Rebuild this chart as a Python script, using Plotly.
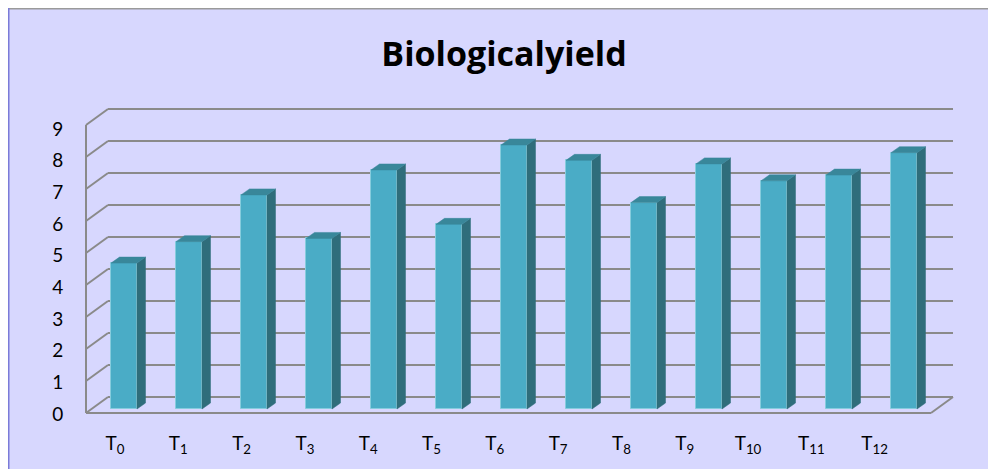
import plotly.graph_objects as go

# ---------------- data ----------------
categories = ["T0", "T1", "T2", "T3", "T4", "T5", "T6", "T7", "T8", "T9", "T10", "T11", "T12"]
tick_labels = ["T<sub>%s</sub>" % c[1:] for c in categories]
yield_values = [4.56, 5.23, 6.69, 5.33, 7.47, 5.77, 8.25, 7.77, 6.45, 7.66, 7.13, 7.31, 8.01]
y_ticks = [0, 1, 2, 3, 4, 5, 6, 7, 8, 9]

# ---------------- geometry / style ----------------
OFF = 8                      # page body margin
W, H = 996 - OFF, 469 - OFF  # figure size
PX_X, PX_Y = 65.0, 32.0      # px per category / per unit (bar plane)
SL, SR, ST, SB = 70, 971, 100, 420   # plot area in screen px
ML, MR, MT, MB = SL - OFF, W - (SR - OFF), ST - OFF, H - (SB - OFF)
PW, PH = SR - SL, SB - ST
Y0_PX = 409.0                # value 0 of bar plane (screen)
X0_PX = 124.0                # T0 centre (screen)

x_range = [(SL - X0_PX) / PX_X, (SR - X0_PX) / PX_X]
y_range = [(Y0_PX - SB) / PX_Y, (Y0_PX - ST) / PX_Y]

# label axes (Excel places labels slightly differently)
LBL_Y0, LBL_YS = 414.0, 31.67
LBL_X0, LBL_XS = 115.0, 63.3
y2_range = [(LBL_Y0 - SB) / LBL_YS, (LBL_Y0 - ST) / LBL_YS]
x2_range = [(SL - LBL_X0) / LBL_XS, (SR - LBL_X0) / LBL_XS]

# 3D offsets (data units)
DXF, DYF = -5.5 / PX_X, -4.0 / PX_Y      # front plane
DXB, DYB = 16.5 / PX_X, 12.0 / PX_Y      # back wall
BW = 0.4                                  # bar width
BDX, BDY = 8.5 / PX_X, 6.0 / PX_Y         # bar depth

BG = "#D7D7FE"
GRID = "#8A8A8A"
FRONT = "#4AACC6"
SIDE = "#2F6D7B"
TOP = "#39879A"

xs = list(range(len(categories)))
x_lo, x_hi = -0.5, len(categories) - 0.5
y_max = max(y_ticks)

fig = go.Figure()

sx, sy, tx, ty = [], [], [], []
for x, v in zip(xs, yield_values):
    r = x + BW / 2
    l = x - BW / 2
    sx += [r, r, r + BDX, r + BDX, r, None]
    sy += [0, v, v + BDY, BDY, 0, None]
    tx += [l, r, r + BDX, l + BDX, l, None]
    ty += [v, v, v + BDY, v + BDY, v, None]

fig.add_trace(go.Scatter(x=sx, y=sy, mode="lines", fill="toself", fillcolor=SIDE,
                         line=dict(color=SIDE, width=0.5), hoverinfo="skip", showlegend=False))
fig.add_trace(go.Scatter(x=tx, y=ty, mode="lines", fill="toself", fillcolor=TOP,
                         line=dict(color=TOP, width=0.5), hoverinfo="skip", showlegend=False))
fig.add_trace(go.Bar(x=xs, y=yield_values, width=BW,
                     marker=dict(color=FRONT, line=dict(color="#86CCDD", width=1)),
                     showlegend=False, hovertext=categories))
fig.add_trace(go.Scatter(x=[0], y=[0], xaxis="x2", yaxis="y2", mode="markers",
                         marker=dict(opacity=0), hoverinfo="skip", showlegend=False))


def px2paper_x(px):
    return (px - SL) / PW


def px2paper_y(py):
    return (SB - py) / PH


shapes = []
shapes.append(dict(type="line", xref="paper", yref="paper", layer="below",
                   x0=px2paper_x(OFF), x1=px2paper_x(OFF + W), y0=px2paper_y(OFF + 0.75), y1=px2paper_y(OFF + 0.75),
                   line=dict(color="#9A9A9A", width=1.5)))
shapes.append(dict(type="line", xref="paper", yref="paper", layer="below",
                   x0=px2paper_x(OFF + 0.75), x1=px2paper_x(OFF + 0.75), y0=px2paper_y(OFF), y1=px2paper_y(OFF + H),
                   line=dict(color="#7B7BD8", width=1.5)))

gl = dict(color=GRID, width=2)
for v in y_ticks:
    shapes.append(dict(type="line", xref="x", yref="y", layer="below",
                       x0=x_lo + DXB, x1=x_hi + DXB, y0=v + DYB, y1=v + DYB, line=gl))
    shapes.append(dict(type="line", xref="x", yref="y", layer="below",
                       x0=x_lo + DXF, x1=x_lo + DXB, y0=v + DYF, y1=v + DYB, line=gl))
shapes.append(dict(type="line", xref="x", yref="y", layer="below",
                   x0=x_lo + DXF, x1=x_lo + DXF, y0=DYF, y1=y_max + DYF, line=gl))
shapes.append(dict(type="line", xref="x", yref="y", layer="below",
                   x0=x_lo + DXF, x1=x_hi + DXF, y0=DYF, y1=DYF, line=gl))
shapes.append(dict(type="line", xref="x", yref="y", layer="below",
                   x0=x_hi + DXF, x1=x_hi + DXB, y0=DYF, y1=DYB, line=gl))

FONT = "Lato, 'Open Sans', sans-serif"
TFONT = "'Open Sans', Lato, sans-serif"
fig.update_layout(
    width=W, height=H,
    margin=dict(l=ML, r=MR, t=MT, b=MB, pad=0),
    paper_bgcolor=BG, plot_bgcolor="rgba(0,0,0,0)",
    font=dict(family=FONT, color="black", size=19),
    title=dict(text="<b>Biologicalyield</b>", font=dict(family=TFONT, size=34, color="black"),
               xref="container", yref="container", x=(504 - OFF) / W, xanchor="center",
               y=1 - 46 / H, yanchor="middle"),
    xaxis=dict(range=x_range, showgrid=False, zeroline=False, showline=False,
               showticklabels=False, ticks=""),
    yaxis=dict(range=y_range, showgrid=False, zeroline=False, showline=False,
               showticklabels=False, ticks=""),
    xaxis2=dict(range=x2_range, overlaying="x", anchor="y2", side="bottom", showgrid=False,
                zeroline=False, showline=False, tickmode="array", tickvals=xs, ticktext=tick_labels,
                ticks="outside", ticklen=6, tickcolor="rgba(0,0,0,0)",
                tickfont=dict(family=FONT, size=19, color="black")),
    yaxis2=dict(range=y2_range, overlaying="y", anchor="x2", side="left", showgrid=False,
                zeroline=False, showline=False, tickmode="array", tickvals=y_ticks,
                ticktext=[str(t) for t in y_ticks],
                ticks="outside", ticklen=2, tickcolor="rgba(0,0,0,0)",
                tickfont=dict(family=FONT, size=19, color="black")),
    shapes=shapes,
    bargap=0,
)

fig.write_html("out.html")
